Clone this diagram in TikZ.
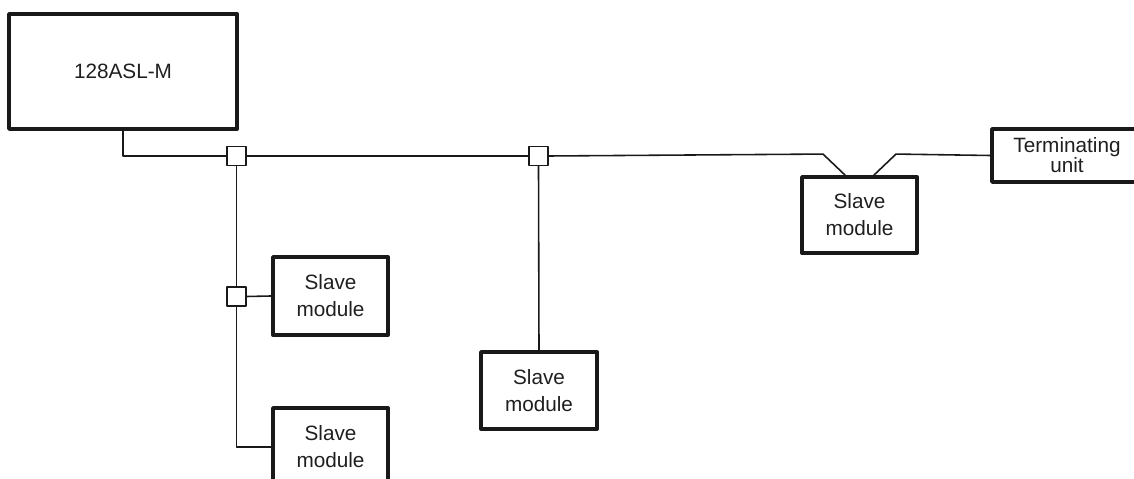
\documentclass[tikz,border=0pt]{standalone}
\usepackage{fontspec}
\setmainfont{Liberation Sans}
\usetikzlibrary{positioning,calc}
\begin{document}
\begin{tikzpicture}[line cap=round,line join=round,x=0.02cm,y=-0.02cm,
	modbox/.style={draw=black!90,line width=2.2pt,align=center,inner sep=0pt,
		font=\fontsize{11.8}{15.3}\selectfont,text=black!88},
	junc/.style={draw=black!90,line width=0.9pt,fill=white,minimum size=0.38cm,inner sep=0pt},
	bus/.style={draw=black!90,line width=0.9pt}]
		\useasboundingbox (0,0) rectangle (1134,479);
		\clip (0,0) rectangle (1134,479);
		\node[modbox,minimum width=228*0.02cm,minimum height=115*0.02cm] (master) at (123,71.5) {128ASL-M};
		\node[modbox,minimum width=150*0.02cm,minimum height=53*0.02cm,font=\fontsize{11.8}{11.4}\selectfont] (term) at (1067,155.5) {Terminating\\unit};
		\node[modbox,minimum width=115*0.02cm,minimum height=76*0.02cm] (slaveR) at (859.5,215) {Slave\\module};
		\node[modbox,minimum width=116*0.02cm,minimum height=77*0.02cm] (slaveM) at (539,390.5) {Slave\\module};
		\node[modbox,minimum width=115*0.02cm,minimum height=78*0.02cm] (slaveA) at (330.5,296) {Slave\\module};
		\node[modbox,minimum width=115*0.02cm,minimum height=78*0.02cm] (slaveB) at (330.5,447) {Slave\\module};
		\node[junc] (j1) at (236.5,156) {};
		\node[junc] (j2) at (538.5,156) {};
		\node[junc] (j3) at (236.5,296.5) {};
		\draw [bus] (master.south) |- (j1.west);
		\draw [bus] (j1.east)-- (j2.west);
		\draw [bus] (j2.east)-- ([shift={(-36.5,-21)}]slaveR.north)-- ([shift={(-14.5,0)}]slaveR.north);
		\draw [bus] ([shift={(14.5,0)}]slaveR.north)-- ([shift={(36.5,-21)}]slaveR.north)-- (term.west);
		\draw [bus] (j2.south)-- (slaveM.north);
		\draw [bus] (j1.south)-- (j3.north);
		\draw [bus] (j3.east)-- (slaveA.west);
		\draw [bus] (j3.south) |- (slaveB.west);
\end{tikzpicture}
\end{document}
